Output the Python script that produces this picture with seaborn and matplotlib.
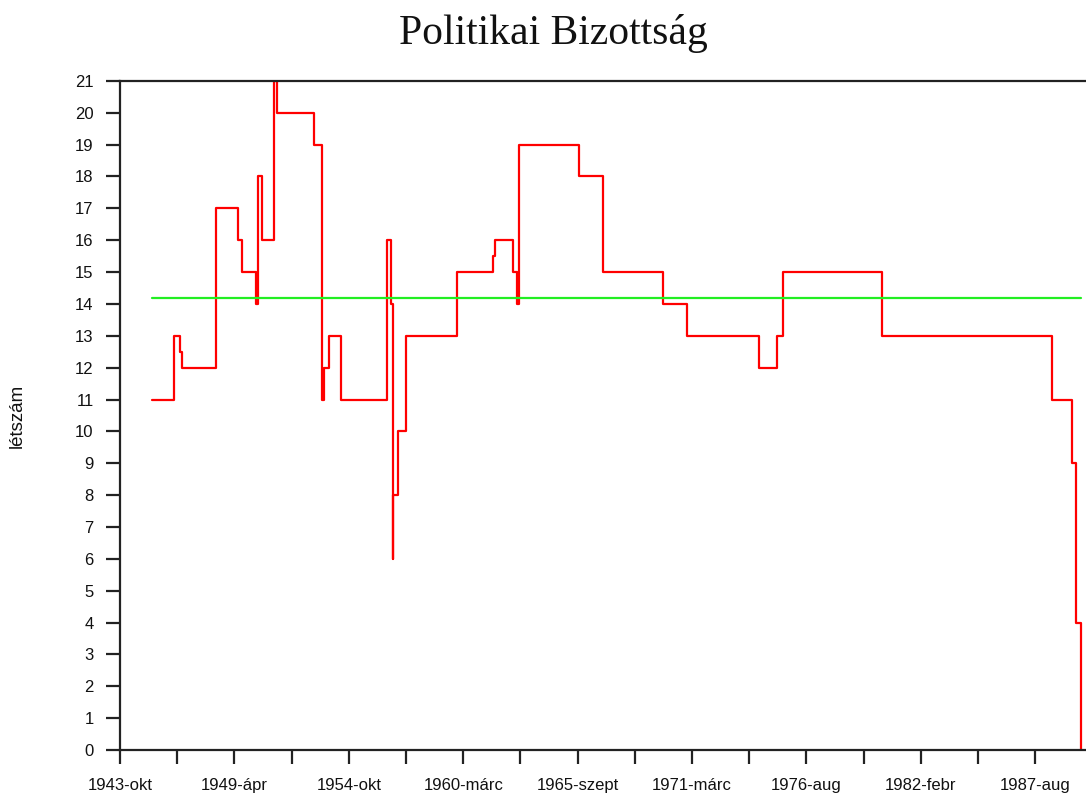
import matplotlib
matplotlib.use('Agg')
import matplotlib.pyplot as plt
import pandas as pd
import seaborn as sns

# Data: membership of the Political Committee over time (step changes).
change_dates = [
    '1945-04-25', '1946-05-19', '1946-09-02', '1946-10-08', '1948-05-26',
    '1949-06-17', '1949-08-29', '1950-04-20', '1950-06-02', '1950-08-11',
    '1951-03-03', '1951-04-20', '1953-02-06', '1953-06-24', '1953-07-31',
    '1953-10-15', '1954-05-11', '1956-07-26', '1956-10-04', '1956-11-06',
    '1956-11-07', '1957-02-13', '1957-07-05', '1959-12-02', '1961-08-22',
    '1961-09-27', '1962-08-18', '1962-10-15', '1962-11-21', '1965-10-08',
    '1966-11-28', '1969-10-23', '1970-12-09', '1974-05-26', '1975-04-09',
    '1975-07-20', '1980-04-05', '1988-05-26', '1989-05-11', '1989-07-23',
    '1989-10-19',
]
members = [
    11, 13, 12.5, 12, 17,
    16, 15, 14, 18, 16,
    21, 20, 19, 11, 12,
    13, 11, 16, 14, 6,
    8, 10, 13, 15, 15.5,
    16, 15, 14, 19, 18,
    15, 14, 13, 12, 13,
    15, 13, 11, 9, 4,
    0,
]
mean_members = 14.2

tick_start = '1943-10-20'
tick_labels = ['1943-okt', '1949-ápr', '1954-okt', '1960-márc', '1965-szept',
               '1971-márc', '1976-aug', '1982-febr', '1987-aug']

df = pd.DataFrame({'date': pd.to_datetime(change_dates), 'value': members})
df_mean = pd.DataFrame({'date': df['date'].iloc[[0, -1]].values,
                        'value': [mean_members, mean_members]})

sns.set_style('ticks')
plt.rcParams['font.family'] = ['Liberation Sans', 'DejaVu Sans']

fig = plt.figure(figsize=(10.86, 7.98), dpi=100)
ax = fig.add_axes([0.1105, 0.0602, 0.8895, 0.8384])

sns.lineplot(data=df, x='date', y='value', ax=ax, color='#ff0000',
             drawstyle='steps-post', linewidth=1.6, estimator=None)
sns.lineplot(data=df_mean, x='date', y='value', ax=ax, color='#22ee22',
             linewidth=1.6, estimator=None)

# Axes.
ticks = pd.date_range(tick_start, periods=17, freq='1000D')
ax.set_xticks(ticks)
ax.set_xticklabels([tick_labels[i // 2] if i % 2 == 0 else '' for i in range(len(ticks))])
ax.set_xlim(pd.Timestamp(tick_start), pd.Timestamp('1990-01-14'))
ax.set_ylim(0, 21)
ax.set_yticks(range(0, 22))
ax.tick_params(axis='both', direction='out', length=10, width=1.6,
               color='#222222', labelsize=12, labelcolor='#111111', pad=9)
ax.tick_params(axis='x', pad=10)
for side in ['left', 'bottom', 'top']:
    ax.spines[side].set_linewidth(1.6)
    ax.spines[side].set_color('#222222')
ax.spines['right'].set_visible(False)

ax.set_xlabel('')
ax.set_ylabel('létszám', fontsize=13.5, color='#111111', va='center')
ax.yaxis.set_label_coords(-0.106, 0.5)

fig.text(0.51, 0.958, 'Politikai Bizottság', ha='center', va='center',
         fontsize=30, family='Liberation Serif', color='#111111')

fig.savefig('out.png', dpi=100)
